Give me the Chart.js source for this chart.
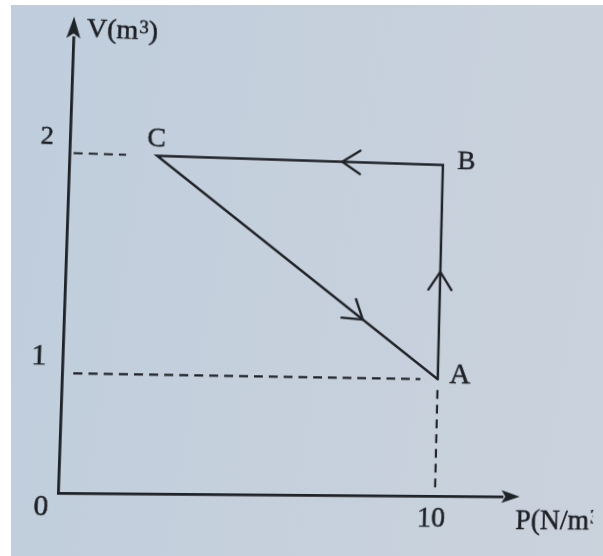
<!DOCTYPE html>
<html>
<head>
<meta charset="utf-8">
<script src="https://cdn.jsdelivr.net/npm/chart.js@4.4.1/dist/chart.umd.min.js"></script>
<style>
  html, body { margin:0; padding:0; width:603px; height:556px; overflow:hidden; background:#ffffff; }
  #paper { position:absolute; left:11px; top:5px; right:0; bottom:0;
           background: linear-gradient(100deg, #bfcddd 0%, #c5d0dc 45%, #cad2dc 100%); }
  #c { position:absolute; left:0; top:0; width:603px; height:556px; transform-origin:0 0; }
</style>
</head>
<body>
<div id="paper"></div>
<canvas id="c" width="603" height="556"></canvas>
<script>
// ---------------- data ----------------
const stateNames   = ['A', 'B', 'C'];
const pressure     = [10, 10, 2.3];   // P (N/m²)
const volume       = [1, 2, 2];       // V (m³)
const cycleOrder   = [0, 1, 2, 0];    // A → B → C → A
const xTickValues  = [10];
const xTickLabels  = ['10'];
const yTickValues  = [1, 2];
const yTickLabels  = ['1', '2'];
const originLabel  = '0';
const xAxisTitle   = 'P(N/m³)';
const yAxisTitle   = 'V(m³)';
const guideStates  = [0, 2];          // states with dashed guide lines (A, C)

// ---------------- style ----------------
const INK   = '#1f2226';
const TEXT  = '#1d2024';
const SERIF = '"Liberation Serif", "Times New Roman", serif';
const TEXT_STROKE = 0.5;
const chevronAt = [0.5, 0.357, 0.73];     // where the direction mark sits on each leg
const labelStyle = {
  A: { dx: 12, dy: 4,  align: 'left',   size: 30 },
  B: { dx: 15, dy: 4,  align: 'left',   size: 28 },
  C: { dx: -1, dy: -9, align: 'center', size: 28 }
};

function paintText(ctx, s, x, y) {
  ctx.fillText(s, x, y);
  ctx.strokeText(s, x, y);
}

// draws text where ³ / ² are rendered as raised superscripts
function drawSupText(ctx, text, x, y, size) {
  let cx = x;
  for (const ch of text) {
    const sup = ch === '³' ? '3' : ch === '²' ? '2' : null;
    if (sup) {
      ctx.font = Math.round(size * 0.68) + 'px ' + SERIF;
      paintText(ctx, sup, cx + 1, y - size * 0.22);
      cx += ctx.measureText(sup).width + 1;
    } else {
      ctx.font = size + 'px ' + SERIF;
      paintText(ctx, ch, cx, y);
      cx += ctx.measureText(ch).width;
    }
  }
}

const decor = {
  id: 'decor',
  beforeDatasetsDraw(chart) {
    const { ctx, scales: { x, y } } = chart;
    const axisX = x.left, axisY = y.bottom;
    ctx.save();
    ctx.strokeStyle = INK;
    ctx.lineWidth = 2.2;
    ctx.setLineDash([9, 6]);
    guideStates.forEach(i => {
      const px = x.getPixelForValue(pressure[i]);
      const py = y.getPixelForValue(volume[i]);
      const isA = stateNames[i] === 'A';
      ctx.beginPath();
      ctx.moveTo(axisX + (isA ? 11 : 4), py);
      ctx.lineTo(px - (isA ? 18 : 31), py);
      ctx.stroke();
      if (isA) {
        ctx.beginPath();
        ctx.moveTo(px, py + 11);
        ctx.lineTo(px, axisY - 4);
        ctx.stroke();
      }
    });
    ctx.restore();
  },
  afterDatasetsDraw(chart) {
    const { ctx, scales: { x, y } } = chart;
    ctx.save();
    ctx.strokeStyle = INK;
    ctx.fillStyle = INK;
    ctx.lineWidth = 2.4;
    ctx.lineCap = 'round';
    for (let k = 0; k < cycleOrder.length - 1; k++) {
      const a = cycleOrder[k], b = cycleOrder[k + 1];
      const x1 = x.getPixelForValue(pressure[a]), y1 = y.getPixelForValue(volume[a]);
      const x2 = x.getPixelForValue(pressure[b]), y2 = y.getPixelForValue(volume[b]);
      const f = chevronAt[k];
      const cx = x1 + (x2 - x1) * f, cy = y1 + (y2 - y1) * f;
      const ang = Math.atan2(y2 - y1, x2 - x1) + Math.PI;
      const L = 22, h = 33 * Math.PI / 180;
      ctx.beginPath();
      ctx.moveTo(cx + L * Math.cos(ang - h), cy + L * Math.sin(ang - h));
      ctx.lineTo(cx, cy);
      ctx.lineTo(cx + L * Math.cos(ang + h), cy + L * Math.sin(ang + h));
      ctx.stroke();
    }
    const ox = x.left, oy = y.bottom, top = y.top, right = x.right;
    ctx.beginPath();
    ctx.moveTo(ox, top - 21);
    ctx.lineTo(ox - 7, top + 1);
    ctx.lineTo(ox, top - 4);
    ctx.lineTo(ox + 7, top + 1);
    ctx.closePath();
    ctx.fill();
    ctx.beginPath();
    ctx.moveTo(right + 18, oy);
    ctx.lineTo(right - 1, oy - 6.5);
    ctx.lineTo(right + 3, oy);
    ctx.lineTo(right - 1, oy + 6.5);
    ctx.closePath();
    ctx.fill();
    ctx.restore();
  },
  afterDraw(chart) {
    const { ctx, scales: { x, y } } = chart;
    ctx.save();
    ctx.fillStyle = TEXT;
    ctx.strokeStyle = TEXT;
    ctx.lineWidth = TEXT_STROKE;
    ctx.textBaseline = 'alphabetic';
    stateNames.forEach((n, i) => {
      const s = labelStyle[n];
      ctx.font = s.size + 'px ' + SERIF;
      ctx.textAlign = s.align;
      paintText(ctx, n, x.getPixelForValue(pressure[i]) + s.dx, y.getPixelForValue(volume[i]) + s.dy);
    });
    ctx.textAlign = 'left';
    drawSupText(ctx, yAxisTitle, x.left + 13, y.top - 1, 28);
    drawSupText(ctx, xAxisTitle, x.right + 14, y.bottom + 33, 29);
    ctx.textAlign = 'right';
    ctx.font = '29px ' + SERIF;
    paintText(ctx, originLabel, x.left - 9, y.bottom + 22);
    ctx.restore();
  }
};

const chart = new Chart(document.getElementById('c'), {
  type: 'scatter',
  data: {
    datasets: [{
      data: cycleOrder.map(i => ({ x: pressure[i], y: volume[i] })),
      showLine: true,
      borderColor: INK,
      borderWidth: 2.5,
      borderJoinStyle: 'miter',
      borderCapStyle: 'round',
      pointRadius: 0,
      tension: 0,
      fill: false
    }]
  },
  options: {
    responsive: false,
    animation: false,
    devicePixelRatio: 1,
    events: [],
    layout: { padding: { top: 40, right: 96, bottom: 0, left: 0 } },
    plugins: { legend: { display: false }, tooltip: { enabled: false } },
    scales: {
      x: {
        type: 'linear', min: 0, max: 11.85,
        grid: { display: false, drawTicks: false },
        border: { display: true, color: INK, width: 2.8 },
        afterBuildTicks: s => { s.ticks = xTickValues.map(v => ({ value: v })); },
        afterFit: s => { s.height = 61; },
        ticks: {
          callback: v => xTickLabels[xTickValues.indexOf(v)],
          font: { family: SERIF, size: 29 }, color: TEXT,
          textStrokeColor: TEXT, textStrokeWidth: TEXT_STROKE,
          padding: 6, labelOffset: -3.5, maxRotation: 0, autoSkip: false
        }
      },
      y: {
        type: 'linear', min: 0.46, max: 2.53,
        grid: { display: false, drawTicks: false },
        border: { display: true, color: INK, width: 2.8 },
        afterBuildTicks: s => { s.ticks = yTickValues.map(v => ({ value: v })); },
        afterFit: s => { s.width = 58; },
        ticks: {
          callback: v => yTickLabels[yTickValues.indexOf(v)],
          font: c => ({ family: SERIF, size: (c.tick && c.tick.value === yTickValues[1]) ? 26 : 29 }),
          color: TEXT, textStrokeColor: TEXT, textStrokeWidth: TEXT_STROKE,
          padding: 16, labelOffset: -15.5, autoSkip: false
        }
      }
    }
  },
  plugins: [decor]
});

// ---- slight perspective of the photographed page (style only) ----
(function applyPhotoPerspective() {
  const X = chart.scales.x, Y = chart.scales.y;
  const xa = X.getPixelForValue(0), xb = X.getPixelForValue(xTickValues[0]);
  const ya = Y.bottom, yb = Y.getPixelForValue(yTickValues[1]);
  const src = [[xa, ya], [xb, ya], [xb, yb], [xa, yb]];
  const shift = [[0, -2], [-2, 1], [6, 8.5], [11.5, -3.5]];
  const dst = src.map((p, i) => [p[0] + shift[i][0], p[1] + shift[i][1]]);
  const A = [], b = [];
  for (let i = 0; i < 4; i++) {
    const [sx, sy] = src[i], [u, v] = dst[i];
    A.push([sx, sy, 1, 0, 0, 0, -u * sx, -u * sy]); b.push(u);
    A.push([0, 0, 0, sx, sy, 1, -v * sx, -v * sy]); b.push(v);
  }
  const n = 8;
  for (let c = 0; c < n; c++) {
    let p = c;
    for (let r = c + 1; r < n; r++) if (Math.abs(A[r][c]) > Math.abs(A[p][c])) p = r;
    [A[c], A[p]] = [A[p], A[c]]; [b[c], b[p]] = [b[p], b[c]];
    for (let r = 0; r < n; r++) {
      if (r === c) continue;
      const f = A[r][c] / A[c][c];
      for (let k = c; k < n; k++) A[r][k] -= f * A[c][k];
      b[r] -= f * b[c];
    }
  }
  const h = b.map((v, i) => v / A[i][i]);
  const m = [h[0], h[3], 0, h[6], h[1], h[4], 0, h[7], 0, 0, 1, 0, h[2], h[5], 0, 1];
  document.getElementById('c').style.transform = 'matrix3d(' + m.join(',') + ')';
})();
</script>
</body>
</html>
